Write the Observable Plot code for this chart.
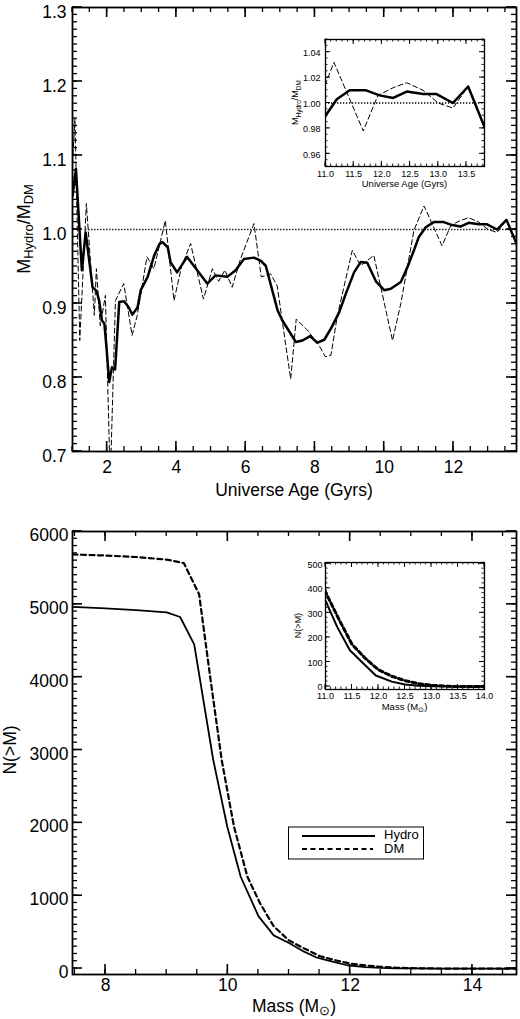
<!DOCTYPE html>
<html><head><meta charset="utf-8">
<script src="https://cdn.jsdelivr.net/npm/d3@7"></script>
<script src="https://cdn.jsdelivr.net/npm/@observablehq/plot@0.6"></script>
<style>
body{margin:0;background:#fff;}
#wrap{position:relative;width:520px;height:1019px;background:#fff;}
#wrap svg{position:absolute;overflow:visible;}
</style></head><body><div id="wrap"></div>
<script>
// ---------- DATA ----------
// Top panel: M_Hydro / M_DM versus universe age (Gyrs)
const topSolidAge = [1.0,1.10,1.27,1.38,1.58,1.69,1.77,1.85,1.92,1.98,2.06,2.14,2.23,2.35,2.49,2.62,2.73,2.88,2.97,3.17,3.36,3.52,3.60,3.75,3.83,4.02,4.31,4.60,4.89,5.13,5.47,5.71,5.95,6.24,6.43,6.58,6.92,7.06,7.45,7.64,7.86,8.07,8.27,8.46,8.70,8.89,9.13,9.32,9.51,9.76,10.0,10.19,10.48,10.67,10.86,11.0,11.2,11.43,11.72,11.96,12.2,12.44,12.73,12.97,13.26,13.53,13.82];
const topSolidRatio = [1.045,1.082,0.945,0.996,0.922,0.917,0.904,0.877,0.873,0.841,0.794,0.814,0.811,0.902,0.903,0.895,0.885,0.895,0.918,0.936,0.965,0.981,0.983,0.976,0.956,0.942,0.963,0.945,0.927,0.938,0.936,0.945,0.960,0.962,0.958,0.951,0.891,0.877,0.848,0.850,0.856,0.847,0.851,0.866,0.888,0.913,0.942,0.956,0.955,0.930,0.918,0.920,0.929,0.949,0.972,0.990,1.003,1.010,1.010,1.006,1.004,1.009,1.007,1.007,1.000,1.013,0.981];
const topDashAge = [1.0,1.07,1.21,1.40,1.63,1.69,1.80,1.95,2.09,2.24,2.48,2.72,2.87,3.15,3.35,3.68,3.93,4.15,4.41,4.78,5.04,5.22,5.40,5.61,5.85,6.24,6.45,6.72,6.91,7.30,7.46,7.78,8.10,8.30,8.46,8.65,9.08,9.32,9.70,10.24,10.48,10.86,11.15,11.67,11.93,12.2,12.44,12.73,13.0,13.26,13.53,13.82];
const topDashRatio = [1.09,1.15,0.85,1.035,0.884,0.947,0.87,0.911,0.66,0.904,0.927,0.857,0.884,0.963,0.947,1.012,0.904,0.95,0.981,0.906,0.947,0.93,0.945,0.922,0.96,1.008,0.936,0.940,0.924,0.798,0.879,0.864,0.845,0.828,0.830,0.884,0.972,0.951,0.965,0.850,0.900,0.999,1.032,0.978,1.006,1.012,1.016,1.010,1.000,0.996,1.013,0.981];
const refLineAge = [1.38, 13.82];
const refLineValue = 1.0;

// Bottom panel: cumulative counts N(>M)
const massHydro = [7.46,8.0,8.5,9.0,9.22,9.45,9.76,9.99,10.21,10.5,10.75,11.0,11.22,11.46,11.71,11.95,12.25,12.5,12.75,13.0,13.5,14.72];
const countHydro = [4965,4945,4920,4890,4826,4451,2870,1950,1260,720,455,350,243,148,95,45,20,8,3,1,0,0];
const massDM = [7.46,8.0,8.5,9.0,9.28,9.53,9.72,9.90,10.1,10.32,10.53,10.75,11.0,11.25,11.5,11.75,12.0,12.25,12.5,12.75,13.0,13.25,13.5,14.72];
const countDM = [5685,5670,5650,5614,5567,5140,3950,2860,1950,1260,890,580,385,275,172,115,68,42,24,12,5,2,0,0];

// Tick labels
const topXTicks = [2,4,6,8,10,12];
const topYTicks = [0.7,0.8,0.9,1.0,1.1,1.2,1.3];
const insetTopXTicks = [11.0,11.5,12.0,12.5,13.0,13.5];
const insetTopYTicks = [0.96,0.98,1.00,1.02,1.04];
const botXTicks = [8,10,12,14];
const botYTicks = [0,1000,2000,3000,4000,5000,6000];
const insetBotXTicks = [11.0,11.5,12.0,12.5,13.0,13.5,14.0];
const insetBotYTicks = [0,100,200,300,400,500];
const legendLabels = ["Hydro","DM"];

// ---------- DRAWING ----------
const FONT = '"Liberation Sans", Arial, Helvetica, sans-serif';
const wrap = document.getElementById("wrap");

function boxPanel(o) {
  const svg = Plot.plot({
    width: o.width, height: o.height,
    marginLeft: o.mL, marginRight: o.mR, marginTop: o.mT, marginBottom: o.mB,
    x: {domain: o.xDom}, y: {domain: o.yDom},
    style: {fontFamily: FONT, fontSize: o.fontSize + "px", color: "black", background: o.bg || "transparent", overflow: "visible"},
    marks: [
      ...o.marks,
      Plot.axisX(o.xLabels, {tickSize: 0, tickPadding: o.padX, tickFormat: o.xFmt, fontSize: o.fontSize, label: null}),
      Plot.axisY(o.yLabels, {tickSize: 0, tickPadding: o.padY, tickFormat: o.yFmt, fontSize: o.fontSize, label: null, dy: o.yDy || 0}),
      Plot.frame({stroke: "black", strokeWidth: o.frameWidth})
    ]
  });
  svg.style.left = o.left + "px";
  svg.style.top = o.top + "px";
  wrap.appendChild(svg);

  // inward ticks on all four sides, placed through Plot's own scales
  const X = svg.scale("x"), Y = svg.scale("y");
  const L = o.mL, R = o.width - o.mR, T = o.mT, B = o.height - o.mB;
  const inside = (v, d) => v >= d[0] - 1e-9 && v <= d[1] + 1e-9;
  const g = d3.select(svg).append("g");
  const seg = (x1, y1, x2, y2, w) => g.append("line")
    .attr("x1", x1).attr("y1", y1).attr("x2", x2).attr("y2", y2)
    .style("stroke", "#000").style("stroke-width", w + "px");
  const drawX = (vals, len, w) => vals.filter(v => inside(v, o.xDom)).forEach(v => {
    const px = X.apply(v);
    seg(px, B, px, B - len, w);
    seg(px, T, px, T + len, w);
  });
  const drawY = (vals, len, w) => vals.filter(v => inside(v, o.yDom)).forEach(v => {
    const py = Y.apply(v);
    seg(L, py, L + len, py, w);
    seg(R, py, R - len, py, w);
  });
  drawX(o.xMajor, o.maj, o.majW); drawX(o.xMinor, o.min, o.minW);
  drawY(o.yMajor, o.maj, o.majW); drawY(o.yMinor, o.min, o.minW);
  return svg;
}

// text helper with subscripts: parts = [[text, isSub], ...]
function addText(svg, {x, y, size, rotate = 0, parts, anchor = "middle"}) {
  const t = d3.select(svg).append("text")
    .attr("transform", `translate(${x},${y}) rotate(${rotate})`)
    .attr("text-anchor", anchor)
    .attr("dominant-baseline", "middle")
    .attr("font-family", FONT)
    .attr("font-size", size)
    .attr("fill", "black");
  let shifted = false;
  for (const [s, sub] of parts) {
    const sp = t.append("tspan").text(s);
    if (sub && !shifted) { sp.attr("dy", size * 0.3).attr("font-size", size * 0.72); shifted = true; }
    else if (sub) { sp.attr("font-size", size * 0.72); }
    else if (!sub && shifted) { sp.attr("dy", -size * 0.3); shifted = false; }
  }
  return t;
}

const range = (a, b, s) => d3.range(Math.round(a / s), Math.round(b / s) + 1).map(i => +(i * s).toFixed(6));

// ---- Top main panel ----
const topMain = boxPanel({
  left: 0, top: 0, width: 520, height: 505, mL: 72, mR: 4, mT: 7, mB: 54,
  xDom: [1.0, 13.82], yDom: [0.7, 1.3],
  xMajor: topXTicks, xMinor: range(1, 14, 0.5), yMajor: topYTicks, yMinor: range(0.7, 1.3, 0.01),
  maj: 10, min: 5, majW: 1.6, minW: 1.3, frameWidth: 1.8,
  xLabels: topXTicks, yLabels: topYTicks, xFmt: d3.format("d"), yFmt: d3.format(".1f"),
  fontSize: 17.5, padX: 9, padY: 6, yDy: 5,
  marks: [
    Plot.ruleY([refLineValue], {x1: refLineAge[0], x2: refLineAge[1], stroke: "black", strokeWidth: 1.3, strokeDasharray: "1.3,1.7"}),
    Plot.line(topDashAge, {x: topDashAge, y: topDashRatio, stroke: "black", strokeWidth: 1, strokeDasharray: "5,3", clip: true}),
    Plot.line(topSolidAge, {x: topSolidAge, y: topSolidRatio, stroke: "black", strokeWidth: 2.5, clip: true})
  ]
});
addText(topMain, {x: 294, y: 491, size: 17.5, parts: [["Universe Age (Gyrs)", false]]});
addText(topMain, {x: 25, y: 229, size: 18, rotate: -90, parts: [["M", false], ["Hydro", true], ["/M", false], ["DM", true]]});

// ---- Top inset ----
const topInset = boxPanel({
  left: 280, top: 34, width: 209, height: 172, mL: 45, mR: 5, mT: 5, mB: 40,
  xDom: [11.0, 13.82], yDom: [0.95, 1.05],
  xMajor: insetTopXTicks, xMinor: range(11, 13.8, 0.1), yMajor: insetTopYTicks, yMinor: range(0.95, 1.05, 0.005),
  maj: 5, min: 2.5, majW: 1, minW: 0.9, frameWidth: 1.3,
  xLabels: insetTopXTicks, yLabels: insetTopYTicks, xFmt: d3.format(".1f"), yFmt: d3.format(".2f"),
  fontSize: 9, padX: 4, padY: 5, yDy: 1, bg: "white",
  marks: [
    Plot.ruleY([refLineValue], {stroke: "black", strokeWidth: 1.3, strokeDasharray: "1.3,1.7"}),
    Plot.line(topDashAge, {x: topDashAge, y: topDashRatio, stroke: "black", strokeWidth: 1, strokeDasharray: "5,3", clip: true}),
    Plot.line(topSolidAge, {x: topSolidAge, y: topSolidRatio, stroke: "black", strokeWidth: 2.5, clip: true})
  ]
});
addText(topInset, {x: 124.5, y: 150, size: 9.5, parts: [["Universe Age (Gyrs)", false]]});
addText(topInset, {x: 16, y: 68.5, size: 9, rotate: -90, parts: [["M", false], ["Hydro", true], ["/M", false], ["DM", true]]});

// ---- Bottom main panel ----
const botMain = boxPanel({
  left: 0, top: 510, width: 520, height: 509, mL: 72, mR: 4, mT: 21, mB: 45,
  xDom: [7.46, 14.72], yDom: [-82, 6000],
  xMajor: botXTicks, xMinor: range(7.5, 14.5, 0.5), yMajor: botYTicks, yMinor: range(0, 6000, 100),
  maj: 10, min: 5, majW: 1.6, minW: 1.3, frameWidth: 1.8,
  xLabels: botXTicks, yLabels: botYTicks, xFmt: d3.format("d"), yFmt: d3.format("d"),
  fontSize: 17.5, padX: 4, padY: 4, yDy: 4,
  marks: [
    Plot.line(massDM, {x: massDM, y: countDM, stroke: "black", strokeWidth: 2.2, strokeDasharray: "5,3.5", clip: true}),
    Plot.line(massHydro, {x: massHydro, y: countHydro, stroke: "black", strokeWidth: 1.8, clip: true})
  ]
});
addText(botMain, {x: 294, y: 497, size: 17.5, parts: [["Mass (M", false], ["\u2299", true], [")", false]]});
addText(botMain, {x: 11, y: 240, size: 17.5, rotate: -90, parts: [["N(>M)", false]]});
// legend
{
  const g = d3.select(botMain).append("g");
  g.append("rect").attr("x", 288.5).attr("y", 317).attr("width", 135).attr("height", 32)
    .attr("fill", "white").attr("stroke", "black").attr("stroke-width", 1);
  g.append("line").attr("x1", 302).attr("x2", 375).attr("y1", 326).attr("y2", 326)
    .attr("stroke", "black").attr("stroke-width", 1.8);
  g.append("line").attr("x1", 302).attr("x2", 373).attr("y1", 339).attr("y2", 339)
    .attr("stroke", "black").attr("stroke-width", 2.2).attr("stroke-dasharray", "5,3.5");
  addText(botMain, {x: 384, y: 326, size: 13, anchor: "start", parts: [[legendLabels[0], false]]});
  addText(botMain, {x: 384, y: 340, size: 13, anchor: "start", parts: [[legendLabels[1], false]]});
}

// ---- Bottom inset ----
const botInset = boxPanel({
  left: 280, top: 557, width: 209, height: 172, mL: 45, mR: 5, mT: 5, mB: 40,
  xDom: [11.0, 14.0], yDom: [-12, 505],
  xMajor: insetBotXTicks, xMinor: range(11, 14, 0.1), yMajor: insetBotYTicks, yMinor: range(0, 500, 20),
  maj: 5, min: 2.5, majW: 1, minW: 0.9, frameWidth: 1.3,
  xLabels: insetBotXTicks, yLabels: insetBotYTicks, xFmt: d3.format(".1f"), yFmt: d3.format("d"),
  fontSize: 9, padX: 3, padY: 3, yDy: 1, bg: "white",
  marks: [
    Plot.line(massDM, {x: massDM, y: countDM, stroke: "black", strokeWidth: 3, strokeDasharray: "4,3", clip: true}),
    Plot.line(massHydro, {x: massHydro, y: countHydro, stroke: "black", strokeWidth: 2, clip: true})
  ]
});
addText(botInset, {x: 124.5, y: 150, size: 9.5, parts: [["Mass (M", false], ["\u2299", true], [")", false]]});
addText(botInset, {x: 19, y: 68.5, size: 9, rotate: -90, parts: [["N(>M)", false]]});
</script>
</body></html>
